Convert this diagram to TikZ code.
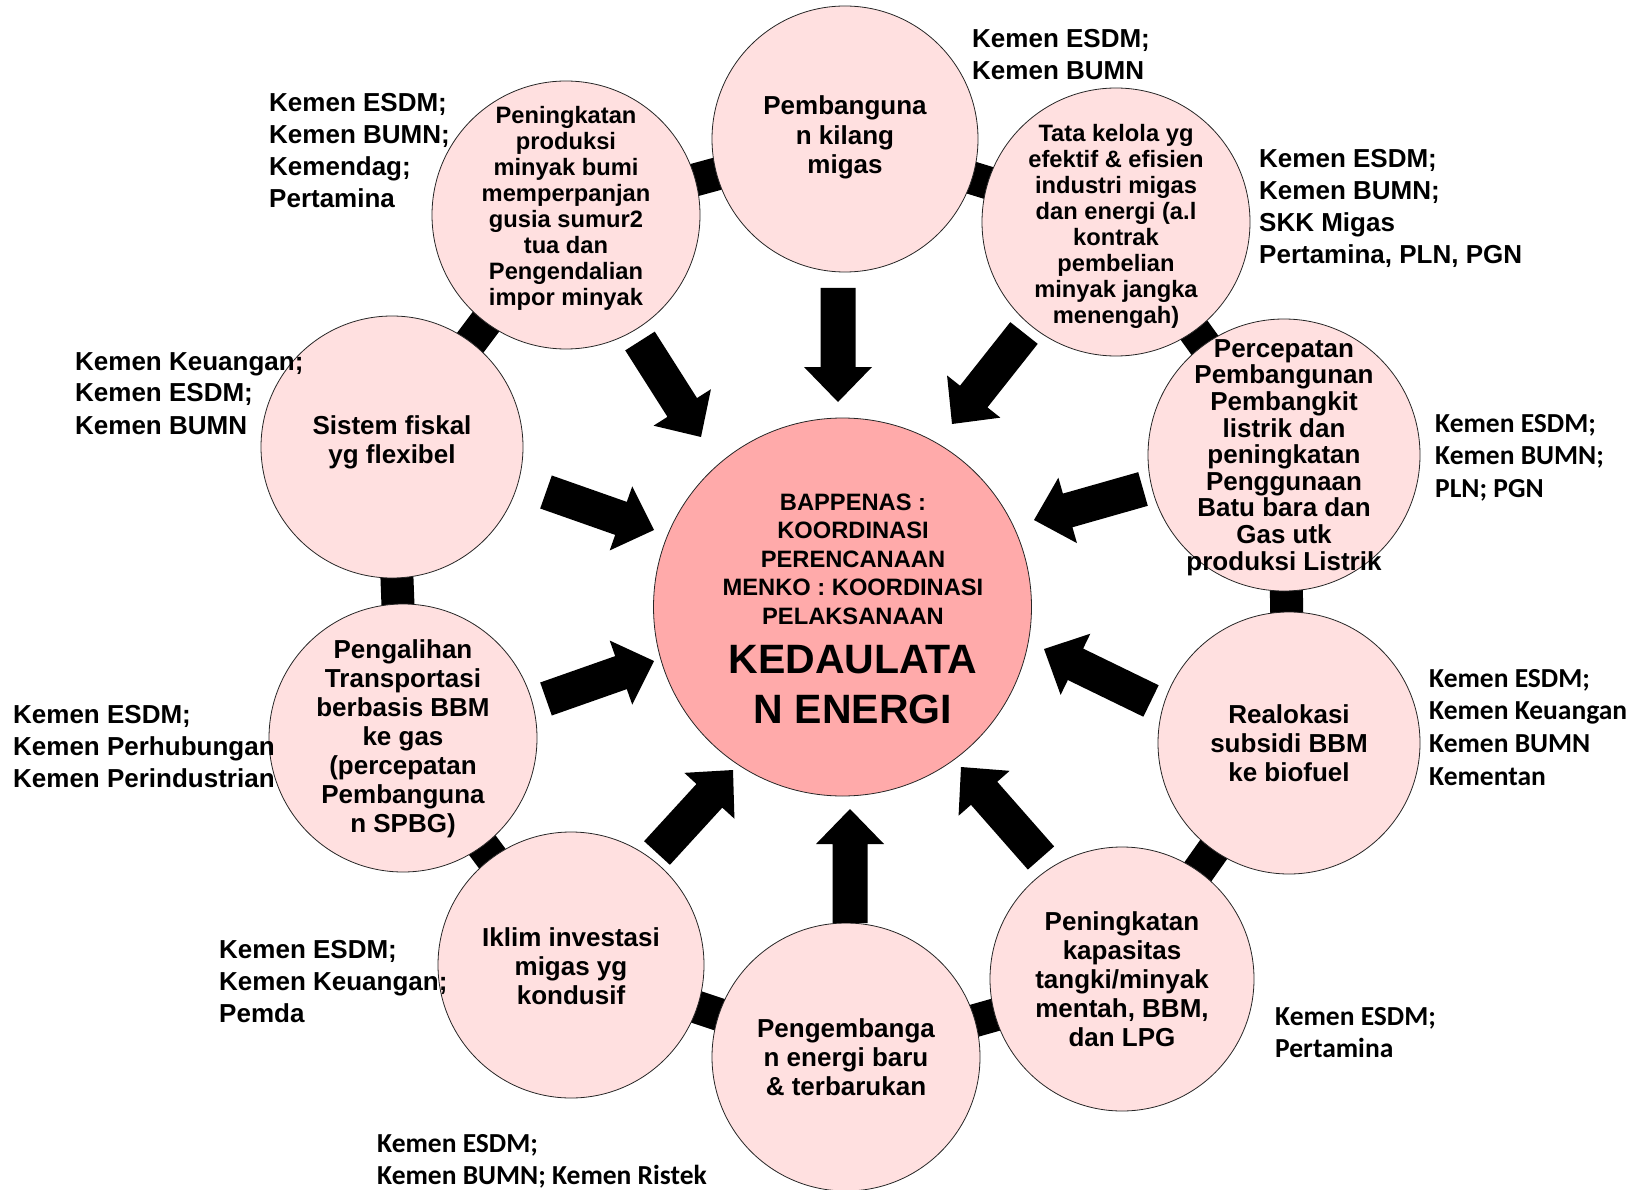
\documentclass[tikz,border=0pt]{standalone}
\usepackage{fontspec}
\setmainfont{Liberation Sans}
\newfontfamily\calib{Carlito}
\usetikzlibrary{calc}
\pgfdeclarelayer{background}
\pgfsetlayers{background,main}
\definecolor{outerpink}{RGB}{255,224,224}
\definecolor{centerpink}{RGB}{255,170,170}
\tikzset{
  outer/.style={circle, draw=black!85, line width=0.8pt, fill=outerpink, inner sep=0pt},
  otext/.style={align=center, inner sep=0pt, font=\fontsize{26}{29}\selectfont\bfseries},
  otextsmall/.style={align=center, inner sep=0pt, font=\fontsize{23.7}{26}\selectfont\bfseries},
  otexttight/.style={align=center, inner sep=0pt, font=\fontsize{26}{26.6}\selectfont\bfseries},
  ringbar/.style={line width=33pt, black},
  lblA/.style={anchor=base west, inner sep=0pt, font=\fontsize{26}{32}\selectfont\bfseries},
  lblC/.style={anchor=base west, inner sep=0pt, font=\calib\fontsize{27.5}{32.7}\selectfont\bfseries},
  ctsmall/.style={anchor=base, inner sep=0pt, font=\fontsize{23.7}{28.6}\selectfont\bfseries},
  ctbig/.style={anchor=base, inner sep=0pt, font=\fontsize{41}{50}\selectfont\bfseries},
}
\newcommand\blockarrow[2]{%
  \path ($(#2)!35pt!(#1)$) coordinate (hb);
  \fill[black] ($(#1)!17.5pt!90:(#2)$) -- ($(hb)!17.5pt!90:(#2)$) -- ($(hb)!34pt!90:(#2)$) -- (#2)
    -- ($(hb)!34pt!-90:(#2)$) -- ($(hb)!17.5pt!-90:(#2)$) -- ($(#1)!17.5pt!-90:(#2)$) -- cycle;
}
\newcommand\lbl[1]{\begin{tabular}[t]{@{}l@{}}#1\end{tabular}}
\newcommand\clbl[1]{\begin{tabular}[t]{@{}c@{}}#1\end{tabular}}
\begin{document}
\begin{tikzpicture}[x=1pt,y=-1pt]
\useasboundingbox (0,0) rectangle (1641,1190);

% outer circles
\node[outer, minimum size=266pt] (n1) at (845,139) {};
\node[outer, minimum size=268pt] (n2) at (1116,222) {};
\node[outer, minimum size=272pt] (n3) at (1284,455) {};
\node[outer, minimum size=262pt] (n4) at (1289,743) {};
\node[outer, minimum size=264pt] (n5) at (1122,979) {};
\node[outer, minimum size=268pt] (n6) at (846,1057) {};
\node[outer, minimum size=266pt] (n7) at (571,965) {};
\node[outer, minimum size=268pt] (n8) at (403,738) {};
\node[outer, minimum size=262pt] (n9) at (392,447) {};
\node[outer, minimum size=268pt] (n10) at (566,215) {};

\begin{pgfonlayer}{background}
\draw[ringbar] (n1.center) -- (n2.center) -- (n3.center) -- (n4.center) -- (n5.center)
  -- (n6.center) -- (n7.center) -- (n8.center) -- (n9.center) -- (n10.center) -- cycle;
\end{pgfonlayer}

% central circle
\node[circle, draw=black!85, line width=0.8pt, fill=centerpink, inner sep=0pt, minimum size=378pt] (c) at (842.5,607) {};
\node[ctsmall] (ct1) at (853,510) {\clbl{BAPPENAS :\\ KOORDINASI\\ PERENCANAAN\\ MENKO : KOORDINASI\\ PELAKSANAAN}};
\node[ctbig] (ct2) at (853,673) {\clbl{KEDAULATA\\ N ENERGI}};

% circle texts
\node[otext, font=\fontsize{26}{29.5}\selectfont\bfseries, yshift=1.5pt] (t1) at (n1) {Pembanguna\\n kilang\\migas};
\node[otextsmall, yshift=-4.7pt] (t2) at (n2) {Tata kelola yg\\efektif \& efisien\\industri migas\\dan energi (a.l\\kontrak\\pembelian\\minyak jangka\\menengah)};
\node[otexttight, yshift=-2.5pt] (t3) at (n3) {Percepatan\\Pembangunan\\Pembangkit\\listrik dan\\peningkatan\\Penggunaan\\Batu bara dan\\Gas utk\\produksi Listrik};
\node[otext] (t4) at (n4) {Realokasi\\subsidi BBM\\ke biofuel};
\node[otext] (t5) at (n5) {Peningkatan\\kapasitas\\tangki/minyak\\mentah, BBM,\\dan LPG};
\node[otext] (t6) at (n6) {Pengembanga\\n energi baru\\\& terbarukan};
\node[otext, yshift=-1.5pt] (t7) at (n7) {Iklim investasi\\migas yg\\kondusif};
\node[otext, yshift=-1pt] (t8) at (n8) {Pengalihan\\Transportasi\\berbasis BBM\\ke gas\\(percepatan\\Pembanguna\\n SPBG)};
\node[otext, yshift=5pt] (t9) at (n9) {Sistem fiskal\\yg flexibel};
\node[otextsmall, yshift=7pt] (t10) at (n10) {Peningkatan\\produksi\\minyak bumi\\memperpanjan\\gusia sumur2\\tua dan\\Pengendalian\\impor minyak};

% block arrows toward the centre
\coordinate (a1s) at (838,288);  \coordinate (a1e) at (838,402);
\coordinate (a2s) at (1024,333); \coordinate (a2e) at (952,424);
\coordinate (a3s) at (1143,489); \coordinate (a3e) at (1034,520);
\coordinate (a4s) at (1151,701); \coordinate (a4e) at (1044,649);
\coordinate (a5s) at (1041,858); \coordinate (a5e) at (961,767);
\coordinate (a6s) at (850,923);  \coordinate (a6e) at (850,809);
\coordinate (a7s) at (657,853);  \coordinate (a7e) at (733,770);
\coordinate (a8s) at (546,699);  \coordinate (a8e) at (654,661);
\coordinate (a9s) at (546,492);  \coordinate (a9e) at (654,530);
\coordinate (a10s) at (640,341); \coordinate (a10e) at (701,437);
\blockarrow{a1s}{a1e}
\blockarrow{a2s}{a2e}
\blockarrow{a3s}{a3e}
\blockarrow{a4s}{a4e}
\blockarrow{a5s}{a5e}
\blockarrow{a6s}{a6e}
\blockarrow{a7s}{a7e}
\blockarrow{a8s}{a8e}
\blockarrow{a9s}{a9e}
\blockarrow{a10s}{a10e}

% responsibility labels
\node[lblA] (l1) at (972,48) {\lbl{Kemen ESDM;\\Kemen BUMN}};
\node[lblA] (l2) at (269,112) {\lbl{Kemen ESDM;\\Kemen BUMN;\\Kemendag;\\Pertamina}};
\node[lblA] (l3) at (1259,168) {\lbl{Kemen ESDM;\\Kemen BUMN;\\SKK Migas\\Pertamina, PLN, PGN}};
\node[lblA] (l4) at (75,370) {\lbl{Kemen Keuangan;\\Kemen ESDM;\\Kemen BUMN}};
\node[lblA] (l5) at (13,723) {\lbl{Kemen ESDM;\\Kemen Perhubungan\\Kemen Perindustrian}};
\node[lblA] (l6) at (219,958) {\lbl{Kemen ESDM;\\Kemen Keuangan;\\Pemda}};
\node[lblC] (l7) at (377,1152) {\lbl{Kemen ESDM;\\Kemen BUMN; Kemen Ristek}};
\node[lblC] (l8) at (1275,1025) {\lbl{Kemen ESDM;\\Pertamina}};
\node[lblC] (l9) at (1429,687) {\lbl{Kemen ESDM;\\Kemen Keuangan\\Kemen BUMN\\Kementan}};
\node[lblC] (l10) at (1435,432) {\lbl{Kemen ESDM;\\Kemen BUMN;\\PLN; PGN}};
\end{tikzpicture}
\end{document}
